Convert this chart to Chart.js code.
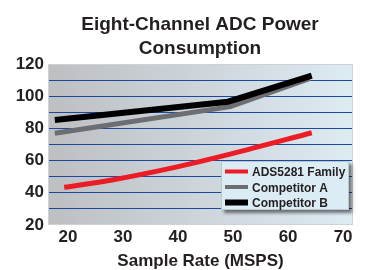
<!DOCTYPE html>
<html><head><meta charset="utf-8">
<script src="https://cdn.jsdelivr.net/npm/chart.js@4"></script>
<style>html,body{margin:0;padding:0;background:#fff}#wrap{width:369px;height:270px}canvas{display:block}</style>
</head><body><div id="wrap"><canvas id="c"></canvas></div>
<script>
const titleLines = ['Eight-Channel ADC Power', 'Consumption'];
const xAxisTitle = 'Sample Rate (MSPS)';
const seriesNames = ['ADS5281 Family', 'Competitor A', 'Competitor B'];
const ads5281X = [19.3, 28, 39, 50, 64.3];
const ads5281Y = [43.4, 48, 55.5, 64.5, 77.3];
const compAX = [17.6, 49.5, 64];
const compAY = [77, 93.5, 111];
const compBX = [17.6, 49.1, 64.3];
const compBY = [85.2, 96.6, 112.8];
const xTickValues = [20, 30, 40, 50, 60, 70];
const yGridValues = [20, 30, 40, 50, 60, 70, 80, 90, 100, 110, 120];
const yTickLabels = [20, 40, 60, 80, 100, 120];

const FONT = '"Liberation Sans", Arial, Helvetica, sans-serif';
const pts = (xs, ys) => xs.map((x, i) => ({x: x, y: ys[i]}));

const bgPlugin = {
  id: 'bg',
  beforeDraw(chart) {
    const {ctx, chartArea: a} = chart;
    const g = ctx.createLinearGradient(a.left, 0, a.right, 0);
    g.addColorStop(0, '#bdbfc2');
    g.addColorStop(1, '#ddebf3');
    ctx.save();
    ctx.fillStyle = g;
    ctx.fillRect(a.left, a.top, a.right - a.left, a.bottom - a.top);
    ctx.restore();
  },
  beforeDatasetsDraw(chart) {
    const {ctx, chartArea: a} = chart;
    ctx.save();
    ctx.strokeStyle = '#cfd2d4';
    ctx.lineWidth = 1;
    ctx.strokeRect(a.left + 0.5, a.top + 0.5, a.right - a.left - 1, a.bottom - a.top - 1);
    ctx.restore();
  },
  afterDraw(chart) {
    const ctx = chart.ctx;
    ctx.save();
    // title
    ctx.fillStyle = '#231f20';
    ctx.font = 'bold 19px ' + FONT;
    ctx.textAlign = 'center';
    ctx.textBaseline = 'alphabetic';
    ctx.fillText(titleLines[0], 200, 30);
    ctx.fillText(titleLines[1], 200, 53.5);
    // legend
    const bx = 221, by = 161, bw = 128, bh = 49;
    ctx.shadowColor = 'rgba(0,0,0,0.5)';
    ctx.shadowBlur = 3;
    ctx.shadowOffsetX = 3;
    ctx.shadowOffsetY = 3;
    ctx.fillStyle = '#dcecf4';
    ctx.fillRect(bx, by, bw, bh);
    ctx.shadowColor = 'transparent';
    ctx.strokeStyle = '#bcc8ce';
    ctx.lineWidth = 1;
    ctx.strokeRect(bx + 0.5, by + 0.5, bw - 1, bh - 1);
    const order = [0, 1, 2];
    const rowsY = [173, 188.5, 204];
    ctx.textAlign = 'left';
    ctx.textBaseline = 'middle';
    ctx.font = 'bold 12px ' + FONT;
    order.forEach((di, i) => {
      const ds = chart.data.datasets[di];
      ctx.strokeStyle = ds.borderColor;
      ctx.lineWidth = ds.legendWidth;
      ctx.beginPath();
      ctx.moveTo(225, rowsY[i] - 1.5);
      ctx.lineTo(248, rowsY[i] - 1.5);
      ctx.stroke();
      ctx.fillStyle = '#231f20';
      ctx.fillText(ds.label, 252, rowsY[i]);
    });
    ctx.restore();
  }
};

new Chart(document.getElementById('c'), {
  type: 'line',
  data: {
    datasets: [
      {label: seriesNames[0], data: pts(ads5281X, ads5281Y), borderColor: '#ec1c24', borderWidth: 5, legendWidth: 4, cubicInterpolationMode: 'monotone', order: 2, pointRadius: 0, borderCapStyle: 'butt'},
      {label: seriesNames[1], data: pts(compAX, compAY), borderColor: '#6d6e71', borderWidth: 5, legendWidth: 4, tension: 0, order: 1, pointRadius: 0, borderCapStyle: 'butt'},
      {label: seriesNames[2], data: pts(compBX, compBY), borderColor: '#000000', borderWidth: 6, legendWidth: 6, tension: 0, order: 0, pointRadius: 0, borderCapStyle: 'butt'}
    ]
  },
  options: {
    responsive: true,
    maintainAspectRatio: false,
    animation: false,
    devicePixelRatio: 1,
    layout: {padding: {top: 64, right: 16, left: 0, bottom: 0}},
    plugins: {legend: {display: false}, title: {display: false}, tooltip: {enabled: false}},
    scales: {
      x: {
        type: 'linear', min: 16.36, max: 71.8,
        afterBuildTicks: s => { s.ticks = xTickValues.map(v => ({value: v})); },
        afterFit: s => { s.height = 45; },
        grid: {display: false, drawTicks: false},
        border: {display: false},
        ticks: {autoSkip: false, maxRotation: 0, padding: 2, color: '#231f20', font: {family: FONT, size: 17, weight: 'bold'}},
        title: {display: true, text: xAxisTitle, color: '#231f20', padding: {top: 0, bottom: 0.5}, font: {family: FONT, size: 17, weight: 'bold', lineHeight: 1}}
      },
      y: {
        type: 'linear', min: 20, max: 120,
        afterBuildTicks: s => { s.ticks = yGridValues.map(v => ({value: v})); },
        afterFit: s => { s.width = 48; },
        grid: {drawTicks: false, lineWidth: 1, color: c => (c.tick && (c.tick.value === 20 || c.tick.value === 120)) ? 'rgba(0,0,0,0)' : '#1a4a9e'},
        border: {display: false},
        ticks: {autoSkip: false, padding: 4, color: '#231f20', font: {family: FONT, size: 17, weight: 'bold'},
          callback: v => yTickLabels.includes(v) ? String(v) : ''}
      }
    }
  },
  plugins: [bgPlugin]
});
</script>
</body></html>
